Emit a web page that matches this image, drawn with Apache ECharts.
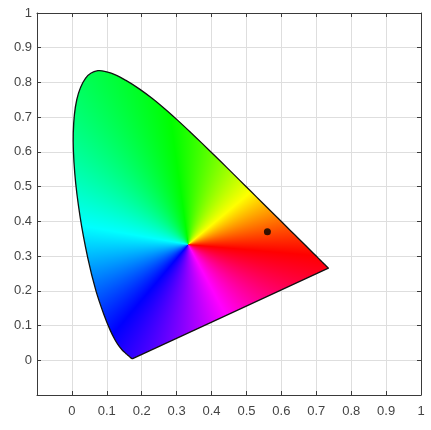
<!DOCTYPE html>
<html>
<head>
<meta charset="utf-8">
<script src="https://cdn.jsdelivr.net/npm/echarts@6/dist/echarts.min.js"></script>
<style>
html,body{margin:0;padding:0;background:#fff;}
#main{width:431px;height:430px;}
</style>
</head>
<body>
<div id="main"></div>
<script>
// CIE 1931 spectral locus (380..700 nm, 5 nm steps)
var locusX = [0.1741,0.1740,0.1738,0.1736,0.1733,0.1730,0.1726,0.1721,0.1714,0.1703,0.1689,0.1669,0.1644,0.1611,0.1566,0.1510,0.1440,0.1355,0.1241,0.1096,0.0913,0.0687,0.0454,0.0235,0.0082,0.0039,0.0139,0.0389,0.0743,0.1142,0.1547,0.1929,0.2296,0.2658,0.3016,0.3373,0.3731,0.4087,0.4441,0.4788,0.5125,0.5448,0.5752,0.6029,0.6270,0.6482,0.6658,0.6801,0.6915,0.7006,0.7079,0.7140,0.7190,0.7230,0.7260,0.7283,0.7300,0.7311,0.7320,0.7327,0.7334,0.7340,0.7344,0.7346,0.7347];
var locusY = [0.0050,0.0050,0.0049,0.0049,0.0048,0.0048,0.0048,0.0048,0.0051,0.0058,0.0069,0.0086,0.0109,0.0138,0.0177,0.0227,0.0297,0.0399,0.0578,0.0868,0.1327,0.2007,0.2950,0.4127,0.5384,0.6548,0.7502,0.8120,0.8338,0.8262,0.8059,0.7816,0.7543,0.7243,0.6923,0.6589,0.6245,0.5896,0.5547,0.5202,0.4866,0.4544,0.4242,0.3965,0.3725,0.3514,0.3340,0.3197,0.3083,0.2993,0.2920,0.2859,0.2809,0.2770,0.2740,0.2717,0.2700,0.2689,0.2680,0.2673,0.2666,0.2660,0.2656,0.2654,0.2653];
var whitePoint = [1/3, 1/3];
var sampleX = [0.56];
var sampleY = [0.37];

var locusData = locusX.map(function (x, i) { return [x, locusY[i]]; });

// hue around the white point (angle measured counter-clockwise in degrees)
var angA = [-5, 40, 98, 170, 230, 298, 355];
var hueA = [0, 60, 120, 180, 240, 300, 360];
function hueOf(deg) {
  while (deg < angA[0]) deg += 360;
  while (deg >= angA[angA.length-1]) deg -= 360;
  for (var i = 0; i < angA.length - 1; i++) {
    if (deg >= angA[i] && deg <= angA[i+1]) {
      var f = (deg - angA[i]) / (angA[i+1] - angA[i]);
      return (hueA[i] + f * (hueA[i+1] - hueA[i])) % 360;
    }
  }
  return 0;
}

var patCache = null;
function huePattern(w, h, cx, cy) {
  var key = w + ',' + h + ',' + cx.toFixed(2) + ',' + cy.toFixed(2);
  if (patCache && patCache.key === key) return patCache.canvas;
  var cv = document.createElement('canvas');
  cv.width = w; cv.height = h;
  var ctx = cv.getContext('2d');
  if (ctx.createConicGradient) {
    var g = ctx.createConicGradient(0, cx, cy);
    var n = 720;
    for (var k = 0; k <= n; k++) {
      var f = k / n;
      var theta = -f * 360; // canvas clockwise -> math ccw
      g.addColorStop(f, 'hsl(' + hueOf(theta).toFixed(2) + ',100%,50%)');
    }
    ctx.fillStyle = g;
    ctx.fillRect(0, 0, w, h);
  } else {
    var R = 2 * (w + h), st = 0.5;
    for (var a = 0; a < 360; a += st) {
      var t0 = -a * Math.PI / 180, t1 = -(a + st) * Math.PI / 180;
      var col = 'hsl(' + hueOf(a + st / 2).toFixed(2) + ',100%,50%)';
      ctx.beginPath();
      ctx.moveTo(cx, cy);
      ctx.lineTo(cx + R * Math.cos(t0), cy + R * Math.sin(t0));
      ctx.lineTo(cx + R * Math.cos(t1), cy + R * Math.sin(t1));
      ctx.closePath();
      ctx.fillStyle = col; ctx.strokeStyle = col; ctx.lineWidth = 1;
      ctx.fill(); ctx.stroke();
    }
  }
  patCache = {key: key, canvas: cv};
  return cv;
}

var chart = echarts.init(document.getElementById('main'), null, {renderer: 'canvas'});
var labelFmt = function (v) {
  if (v < -0.05) return '';
  return String(Math.round(v * 10) / 10);
};
var axisCommon = {
  type: 'value', min: -0.1, max: 1, interval: 0.1,
  axisLine: {show: true, onZero: false, lineStyle: {color: '#3a3a3a', width: 1}},
  axisTick: {show: true, inside: true, length: 4, lineStyle: {color: '#3a3a3a'}},
  splitLine: {show: true, lineStyle: {color: '#dedede', width: 1}}
};
var labelStyle = {formatter: labelFmt, color: '#444', fontSize: 13, fontFamily: 'Liberation Sans, Arial, sans-serif'};
chart.setOption({
  animation: false,
  backgroundColor: '#ffffff',
  grid: {left: 37, right: 10, top: 13, bottom: 35, containLabel: false},
  xAxis: [
    Object.assign({}, axisCommon, {position: 'bottom', axisLabel: Object.assign({margin: 10}, labelStyle)}),
    Object.assign({}, axisCommon, {position: 'top', splitLine: {show: false}, axisLabel: {show: false}})
  ],
  yAxis: [
    Object.assign({}, axisCommon, {position: 'left', axisLabel: Object.assign({margin: 5}, labelStyle)}),
    Object.assign({}, axisCommon, {position: 'right', splitLine: {show: false}, axisLabel: {show: false}})
  ],
  series: [
    {
      type: 'custom',
      silent: true,
      clip: false,
      data: locusData,
      renderItem: function (params, api) {
        if (params.dataIndexInside !== 0) return null;
        var pts = [];
        for (var i = 0; i < params.dataInsideLength; i++) {
          pts.push(api.coord([api.value(0, i), api.value(1, i)]));
        }
        var c = api.coord(whitePoint);
        var cv = huePattern(api.getWidth(), api.getHeight(), c[0], c[1]);
        return {
          type: 'polygon',
          shape: {points: pts, smooth: 0.33},
          style: {fill: {image: cv, repeat: 'no-repeat'}, stroke: '#111', lineWidth: 1.3}
        };
      }
    },
    {
      type: 'scatter',
      data: sampleX.map(function (x, i) { return [x, sampleY[i]]; }),
      symbol: 'circle',
      symbolSize: 7,
      itemStyle: {color: '#000'},
      z: 6
    }
  ]
});
</script>
</body>
</html>
